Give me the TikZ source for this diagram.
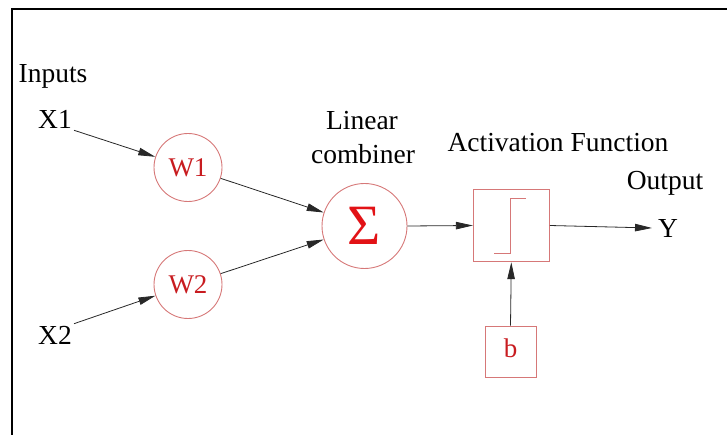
\documentclass[tikz,border=0pt]{standalone}
\usepackage{fontspec}
\setmainfont{Liberation Serif}
\newfontfamily\tnr{Liberation Serif}
\usetikzlibrary{arrows.meta,calc}
\definecolor{shapered}{RGB}{214,120,120}
\definecolor{textred}{RGB}{200,28,32}
\definecolor{sigmared}{RGB}{226,18,22}
\definecolor{linegray}{RGB}{40,40,40}
\begin{document}
\begin{tikzpicture}[x=1pt,y=-1pt,
  lbl/.style={font=\tnr\fontsize{27.5}{30}\selectfont, inner sep=0pt, anchor=base},
  txt/.style={font=\tnr\fontsize{27.5}{30}\selectfont, inner sep=2pt},
  wcirc/.style={circle, draw=shapered, line width=0.9pt, minimum size=68pt, inner sep=0pt,
                text=textred, font=\tnr\fontsize{27}{30}\selectfont},
  sbox/.style={rectangle, draw=shapered, line width=0.9pt, inner sep=0pt},
  arr/.style={draw=linegray, line width=0.8pt, -{Triangle[length=17pt,width=7.5pt]}}
]
\useasboundingbox (0,0) rectangle (727,435);
% frame
\draw[line width=2pt, black] (12,436) -- (12,9.5) -- (728,9.5);

% labels
\node[lbl] (inputs) at (53,82.7) {Inputs};
\node[lbl] (linear) at (362,130) {Linear};
\node[lbl] (combiner) at (363,163.3) {combiner};
\node[lbl] (actlabel) at (558,151.7) {Activation Function};
\node[lbl] (outlabel) at (665,190) {Output};

% inputs
\node[txt] (x1) at (55,119) {X1};
\node[txt] (x2) at (55,335) {X2};

% weights
\node[wcirc] (w1) at (188,167.5) {W1};
\node[wcirc] (w2) at (188,284.5) {W2};

% summation
\node[circle, draw=shapered, line width=0.9pt, minimum size=85pt, inner sep=0pt,
      text=sigmared, font=\tnr\fontsize{57}{60}\selectfont] (sum) at (364.5,226) {Σ};

% activation box
\node[sbox, minimum width=76pt, minimum height=72.5pt] (act) at (511.3,225.5) {};
\draw[shapered, line width=0.9pt]
  ($(act.center)+(-17,27.8)$) -- ($(act.center)+(-0.6,27.8)$)
  -- ($(act.center)+(-0.6,-27.2)$) -- ($(act.center)+(14.7,-27.2)$);

% bias box
\node[sbox, minimum width=51pt, minimum height=51pt, text=textred,
      font=\tnr\fontsize{27}{30}\selectfont, text height=18.4pt, text depth=7.4pt] (b) at (510.5,351.5) {b};

% output
\node[txt, inner sep=0pt, anchor=west] (y) at (658,228) {Y};

% connectors
\draw[arr] (x1.south east) -- (w1);
\draw[arr] (x2.north east) -- (w2);
\draw[arr] (w1) -- (sum);
\draw[arr] (w2) -- (sum);
\draw[arr] (sum.east) -- (act.west);
\draw[arr] (act.east) -- ([xshift=-6pt]y.west);
\draw[arr] (b.north) -- (act.south);
\end{tikzpicture}
\end{document}
